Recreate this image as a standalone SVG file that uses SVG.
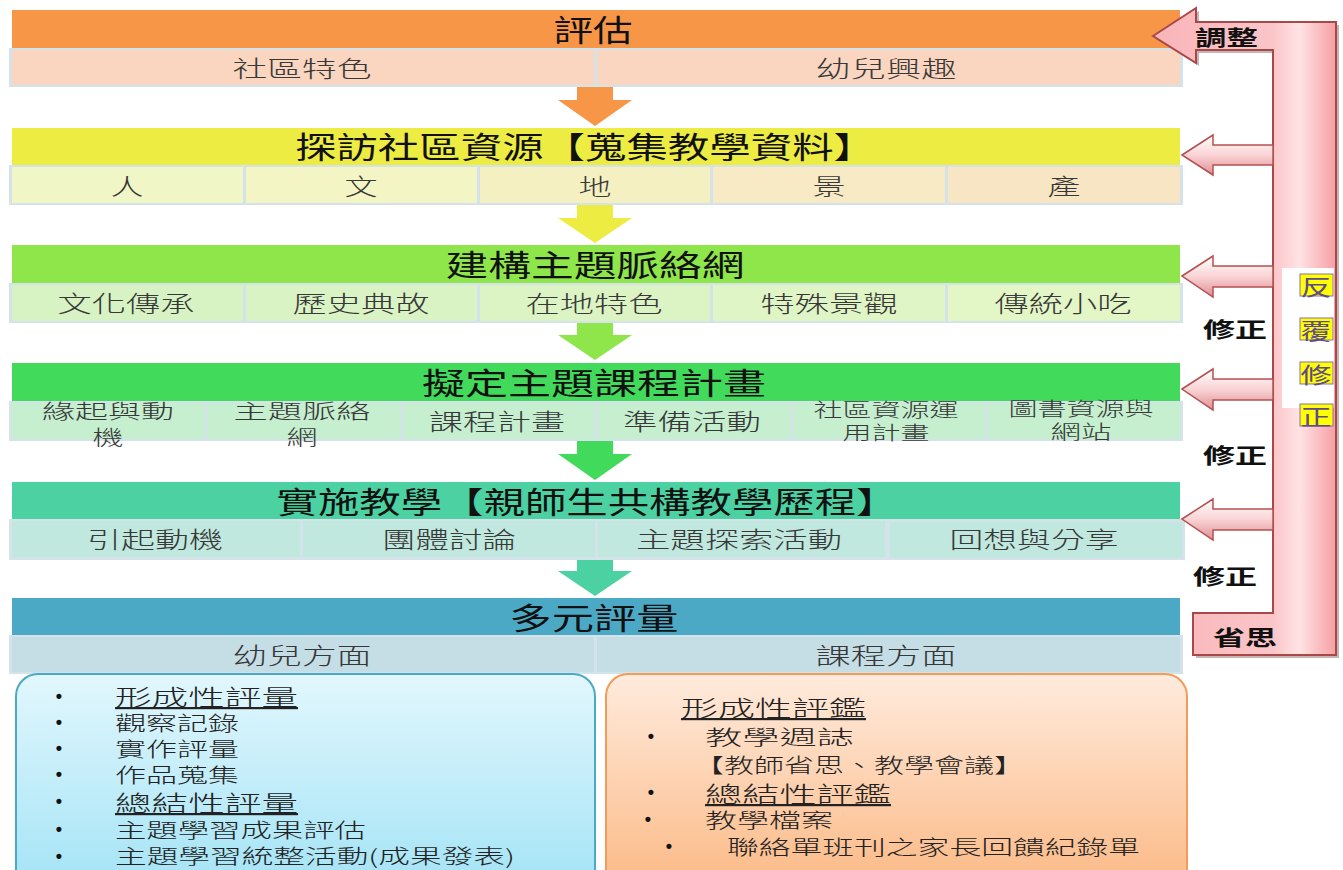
<svg xmlns="http://www.w3.org/2000/svg" width="1343" height="870" viewBox="0 0 1343 870">
<style>
text{font-family:"Noto Sans CJK TC","Noto Sans CJK SC",sans-serif;dominant-baseline:central}
.hd{font-size:30px;fill:#111;text-anchor:middle}
.sb{font-size:23px;font-weight:300;fill:#383838;text-anchor:middle}
.s2{font-size:20px;font-weight:300;fill:#383838;text-anchor:middle}
.sm{font-size:19px;font-weight:300;fill:#383838;text-anchor:middle}
.it{font-size:20px;font-weight:300;fill:#222}
.itu{font-size:22px;font-weight:300;fill:#222;text-decoration:underline}
.bl{font-family:"Liberation Sans",sans-serif;font-size:18px;font-weight:bold;fill:#111;text-anchor:middle}
.fb{font-size:21px;font-weight:bold;fill:#111}
.rv{font-size:22px;fill:#5E4B8B;text-anchor:middle}
.rowbg{fill:#D4E3EA}
.sarrow{fill:url(#gSmall);stroke:#B55050;stroke-width:1.5}
</style>
<defs>
<linearGradient id="gSmall" x1="0" y1="0" x2="0" y2="1">
<stop offset="0" stop-color="#FFFFFF"/>
<stop offset="0.5" stop-color="#FAD3D5"/>
<stop offset="1" stop-color="#DE8E94"/>
</linearGradient>
<linearGradient id="gBar" gradientUnits="userSpaceOnUse" x1="1153" y1="0" x2="1336" y2="0">
<stop offset="0" stop-color="#F9B4B8"/>
<stop offset="0.66" stop-color="#FBC6C9"/>
<stop offset="0.8" stop-color="#FFE3E4"/>
<stop offset="1" stop-color="#F59FA4"/>
</linearGradient>
<linearGradient id="gLeft" x1="0" y1="0" x2="0" y2="1">
<stop offset="0" stop-color="#E2F7FD"/>
<stop offset="1" stop-color="#A2E3F6"/>
</linearGradient>
<linearGradient id="gRight" x1="0" y1="0" x2="0" y2="1">
<stop offset="0" stop-color="#FFEBDD"/>
<stop offset="1" stop-color="#FBB883"/>
</linearGradient>
</defs>

<g id="connectors">
<path d="M577,87 L613,87 L613,100 L632,100 L595,126 L558,100 L577,100 Z" fill="#F79646"/>
<path d="M577,205 L613,205 L613,218 L632,218 L595,243 L558,218 L577,218 Z" fill="#EDEC43"/>
<path d="M577,323 L613,323 L613,335 L632,335 L595,360 L558,335 L577,335 Z" fill="#8EE64B"/>
<path d="M577,441 L613,441 L613,454 L632,454 L595,480 L558,454 L577,454 Z" fill="#42DA5A"/>
<path d="M577,558 L613,558 L613,571 L632,571 L595,596 L558,571 L577,571 Z" fill="#4BD1A2"/>
</g>

<g id="step1">
<rect x="12" y="10" width="1168" height="38" fill="#F79646"/>
<text class="hd" x="593" y="28" textLength="79" lengthAdjust="spacingAndGlyphs">評估</text>
<rect class="rowbg" x="9" y="48" width="1174" height="39"/>
<rect x="12" y="50" width="582" height="35" fill="#FAD5C0"/>
<rect x="597" y="50" width="583" height="35" fill="#FAD5C0"/>
<text class="sb" x="302" y="67" textLength="139" lengthAdjust="spacingAndGlyphs">社區特色</text>
<text class="sb" x="886" y="67" textLength="141" lengthAdjust="spacingAndGlyphs">幼兒興趣</text>
</g>

<g id="step2">
<rect x="12" y="128" width="1168" height="37" fill="#EDEC43"/>
<text class="hd" x="585" y="145" textLength="580" lengthAdjust="spacingAndGlyphs">探訪社區資源【蒐集教學資料】</text>
<rect class="rowbg" x="9" y="165" width="1174" height="40"/>
<rect x="12" y="167" width="231" height="36" fill="#F1F6C7"/>
<rect x="246" y="167" width="231" height="36" fill="#F4F5C4"/>
<rect x="480" y="167" width="230" height="36" fill="#F5F0C2"/>
<rect x="713" y="167" width="232" height="36" fill="#F7EAC4"/>
<rect x="948" y="167" width="232" height="36" fill="#F8E5C4"/>
<text class="sb" x="127" y="185" textLength="33" lengthAdjust="spacingAndGlyphs">人</text>
<text class="sb" x="361" y="185" textLength="33" lengthAdjust="spacingAndGlyphs">文</text>
<text class="sb" x="595" y="185" textLength="33" lengthAdjust="spacingAndGlyphs">地</text>
<text class="sb" x="829" y="185" textLength="33" lengthAdjust="spacingAndGlyphs">景</text>
<text class="sb" x="1064" y="185" textLength="33" lengthAdjust="spacingAndGlyphs">產</text>
</g>

<g id="step3">
<rect x="12" y="245" width="1168" height="38" fill="#8EE64B"/>
<text class="hd" x="595" y="263" textLength="299" lengthAdjust="spacingAndGlyphs">建構主題脈絡網</text>
<rect class="rowbg" x="9" y="283" width="1174" height="40"/>
<rect x="12" y="285" width="231" height="36" fill="#D7F3C3"/>
<rect x="246" y="285" width="231" height="36" fill="#D9F3C4"/>
<rect x="480" y="285" width="230" height="36" fill="#DCF4C4"/>
<rect x="713" y="285" width="232" height="36" fill="#DFF5C5"/>
<rect x="948" y="285" width="232" height="36" fill="#E3F6C6"/>
<text class="sb" x="126" y="302" textLength="137" lengthAdjust="spacingAndGlyphs">文化傳承</text>
<text class="sb" x="361" y="302" textLength="137" lengthAdjust="spacingAndGlyphs">歷史典故</text>
<text class="sb" x="594" y="302" textLength="137" lengthAdjust="spacingAndGlyphs">在地特色</text>
<text class="sb" x="829" y="302" textLength="137" lengthAdjust="spacingAndGlyphs">特殊景觀</text>
<text class="sb" x="1063" y="302" textLength="137" lengthAdjust="spacingAndGlyphs">傳統小吃</text>
</g>

<g id="step4">
<rect x="12" y="363" width="1168" height="38" fill="#42DA5A"/>
<text class="hd" x="594" y="381" textLength="344" lengthAdjust="spacingAndGlyphs">擬定主題課程計畫</text>
<rect class="rowbg" x="9" y="401" width="1174" height="40"/>
<rect x="12" y="403" width="193" height="36" fill="#C5EFCF"/>
<rect x="208" y="403" width="192" height="36" fill="#C5EFCF"/>
<rect x="403" y="403" width="192" height="36" fill="#C5EFCF"/>
<rect x="598" y="403" width="192" height="36" fill="#C5EFCF"/>
<rect x="793" y="403" width="192" height="36" fill="#C5EFCF"/>
<rect x="988" y="403" width="192" height="36" fill="#C5EFCF"/>
<text class="s2" x="108" y="410" textLength="132" lengthAdjust="spacingAndGlyphs">緣起與動</text>
<text class="s2" x="108" y="436" textLength="31" lengthAdjust="spacingAndGlyphs">機</text>
<text class="s2" x="302" y="410" textLength="137" lengthAdjust="spacingAndGlyphs">主題脈絡</text>
<text class="s2" x="302" y="436" textLength="31" lengthAdjust="spacingAndGlyphs">網</text>
<text class="sb" x="497" y="420" textLength="136" lengthAdjust="spacingAndGlyphs">課程計畫</text>
<text class="sb" x="692" y="420" textLength="138" lengthAdjust="spacingAndGlyphs">準備活動</text>
<text class="sm" x="886" y="408" textLength="145" lengthAdjust="spacingAndGlyphs">社區資源運</text>
<text class="sm" x="886" y="431" textLength="87" lengthAdjust="spacingAndGlyphs">用計畫</text>
<text class="sm" x="1081" y="407" textLength="145" lengthAdjust="spacingAndGlyphs">圖書資源與</text>
<text class="sm" x="1081" y="430" textLength="61" lengthAdjust="spacingAndGlyphs">網站</text>
</g>

<g id="step5">
<rect x="12" y="482" width="1168" height="37" fill="#4BD1A2"/>
<text class="hd" x="587" y="500" textLength="621" lengthAdjust="spacingAndGlyphs">實施教學【親師生共構教學歷程】</text>
<rect class="rowbg" x="9" y="519" width="1176" height="41"/>
<rect x="12" y="521" width="288" height="36" fill="#C0E8DE"/>
<rect x="303" y="521" width="292" height="36" fill="#C0E8DE"/>
<rect x="598" y="521" width="287" height="36" fill="#C0E8DE"/>
<rect x="890" y="522" width="292" height="36" fill="#C0E8DE"/>
<text class="sb" x="155" y="538" textLength="136" lengthAdjust="spacingAndGlyphs">引起動機</text>
<text class="sb" x="449" y="538" textLength="134" lengthAdjust="spacingAndGlyphs">團體討論</text>
<text class="sb" x="739" y="538" textLength="206" lengthAdjust="spacingAndGlyphs">主題探索活動</text>
<text class="sb" x="1034" y="538" textLength="169" lengthAdjust="spacingAndGlyphs">回想與分享</text>
</g>

<g id="step6">
<rect x="12" y="598" width="1168" height="37" fill="#4BA9C5"/>
<text class="hd" x="594" y="616" textLength="169" lengthAdjust="spacingAndGlyphs">多元評量</text>
<rect class="rowbg" x="9" y="635" width="1174" height="39"/>
<rect x="12" y="637" width="582" height="35" fill="#C5DEE6"/>
<rect x="597" y="637" width="583" height="35" fill="#C5DEE6"/>
<text class="sb" x="302" y="654" textLength="139" lengthAdjust="spacingAndGlyphs">幼兒方面</text>
<text class="sb" x="886" y="654" textLength="141" lengthAdjust="spacingAndGlyphs">課程方面</text>
</g>

<g id="child-assessment">
<rect x="16" y="674" width="579" height="220" rx="22" fill="url(#gLeft)" stroke="#4BA9C5" stroke-width="2"/>
<text class="bl" x="59" y="696">•</text>
<text class="bl" x="59" y="722">•</text>
<text class="bl" x="59" y="748">•</text>
<text class="bl" x="59" y="774">•</text>
<text class="bl" x="59" y="801">•</text>
<text class="bl" x="59" y="829">•</text>
<text class="bl" x="59" y="856">•</text>
<text class="itu" x="115" y="695" textLength="183" lengthAdjust="spacingAndGlyphs">形成性評量</text>
<text class="it" x="115" y="722" textLength="124" lengthAdjust="spacingAndGlyphs">觀察記錄</text>
<text class="it" x="115" y="748" textLength="124" lengthAdjust="spacingAndGlyphs">實作評量</text>
<text class="it" x="115" y="774" textLength="124" lengthAdjust="spacingAndGlyphs">作品蒐集</text>
<text class="itu" x="115" y="801" textLength="183" lengthAdjust="spacingAndGlyphs">總結性評量</text>
<text class="it" x="115" y="829" textLength="251" lengthAdjust="spacingAndGlyphs">主題學習成果評估</text>
<text class="it" x="115" y="855" textLength="400" lengthAdjust="spacingAndGlyphs">主題學習統整活動(成果發表)</text>
</g>

<g id="course-assessment">
<rect x="606" y="674" width="581" height="220" rx="22" fill="url(#gRight)" stroke="#F39B5A" stroke-width="2"/>
<text class="itu" x="681" y="706" textLength="185" lengthAdjust="spacingAndGlyphs">形成性評鑑</text>
<text class="bl" x="651" y="736">•</text>
<text class="it" x="705" y="736" textLength="149" lengthAdjust="spacingAndGlyphs">教學週誌</text>
<text class="it" x="694" y="764" textLength="330" lengthAdjust="spacingAndGlyphs">【教師省思、教學會議】</text>
<text class="bl" x="651" y="792">•</text>
<text class="itu" x="705" y="792" textLength="186" lengthAdjust="spacingAndGlyphs">總結性評鑑</text>
<text class="bl" x="648" y="819">•</text>
<text class="it" x="705" y="819" textLength="128" lengthAdjust="spacingAndGlyphs">教學檔案</text>
<text class="bl" x="669" y="846">•</text>
<text class="it" x="727" y="846" textLength="413" lengthAdjust="spacingAndGlyphs">聯絡單班刊之家長回饋紀錄單</text>
</g>

<g id="feedback-loop">
<path d="M1156,39 L1199,11 L1199,25 L1339,25 L1339,658 L1196,658 L1196,616 L1276,616 L1276,53 L1199,53 L1199,66 Z" fill="#5a2a2a" opacity="0.35"/>
<path d="M1153,36 L1196,8 L1196,22 L1336,22 L1336,655 L1193,655 L1193,613 L1273,613 L1273,50 L1196,50 L1196,63 Z" fill="url(#gBar)" stroke="#A84848" stroke-width="2"/>
<path class="sarrow" d="M1182,155 L1213,135 L1213,145 L1273,145 L1273,165 L1213,165 L1213,175 Z"/>
<path class="sarrow" d="M1182,276 L1213,256 L1213,266 L1273,266 L1273,287 L1213,287 L1213,297 Z"/>
<path class="sarrow" d="M1182,389 L1213,369 L1213,379 L1273,379 L1273,400 L1213,400 L1213,410 Z"/>
<path class="sarrow" d="M1182,519 L1213,499 L1213,509 L1273,509 L1273,530 L1213,530 L1213,540 Z"/>
<rect x="1282" y="268" width="52" height="140" fill="#FFFFFF"/>
<rect x="1300" y="274" width="33" height="22" fill="#FFFF00" stroke="#8870A8" stroke-width="1"/>
<rect x="1300" y="318" width="33" height="22" fill="#FFFF00" stroke="#8870A8" stroke-width="1"/>
<rect x="1300" y="362" width="33" height="22" fill="#FFFF00" stroke="#8870A8" stroke-width="1"/>
<rect x="1300" y="404" width="33" height="22" fill="#FFFF00" stroke="#8870A8" stroke-width="1"/>
<text class="rv" x="1316" y="285" textLength="31" lengthAdjust="spacingAndGlyphs">反</text>
<text class="rv" x="1316" y="329" textLength="31" lengthAdjust="spacingAndGlyphs">覆</text>
<text class="rv" x="1316" y="373" textLength="31" lengthAdjust="spacingAndGlyphs">修</text>
<text class="rv" x="1316" y="415" textLength="31" lengthAdjust="spacingAndGlyphs">正</text>
<text class="fb" x="1195" y="36" textLength="63" lengthAdjust="spacingAndGlyphs">調整</text>
<text class="fb" x="1213" y="636" textLength="64" lengthAdjust="spacingAndGlyphs">省思</text>
<text class="fb" x="1203" y="328" textLength="64" lengthAdjust="spacingAndGlyphs">修正</text>
<text class="fb" x="1203" y="454" textLength="64" lengthAdjust="spacingAndGlyphs">修正</text>
<text class="fb" x="1193" y="575" textLength="64" lengthAdjust="spacingAndGlyphs">修正</text>
</g>
</svg>
